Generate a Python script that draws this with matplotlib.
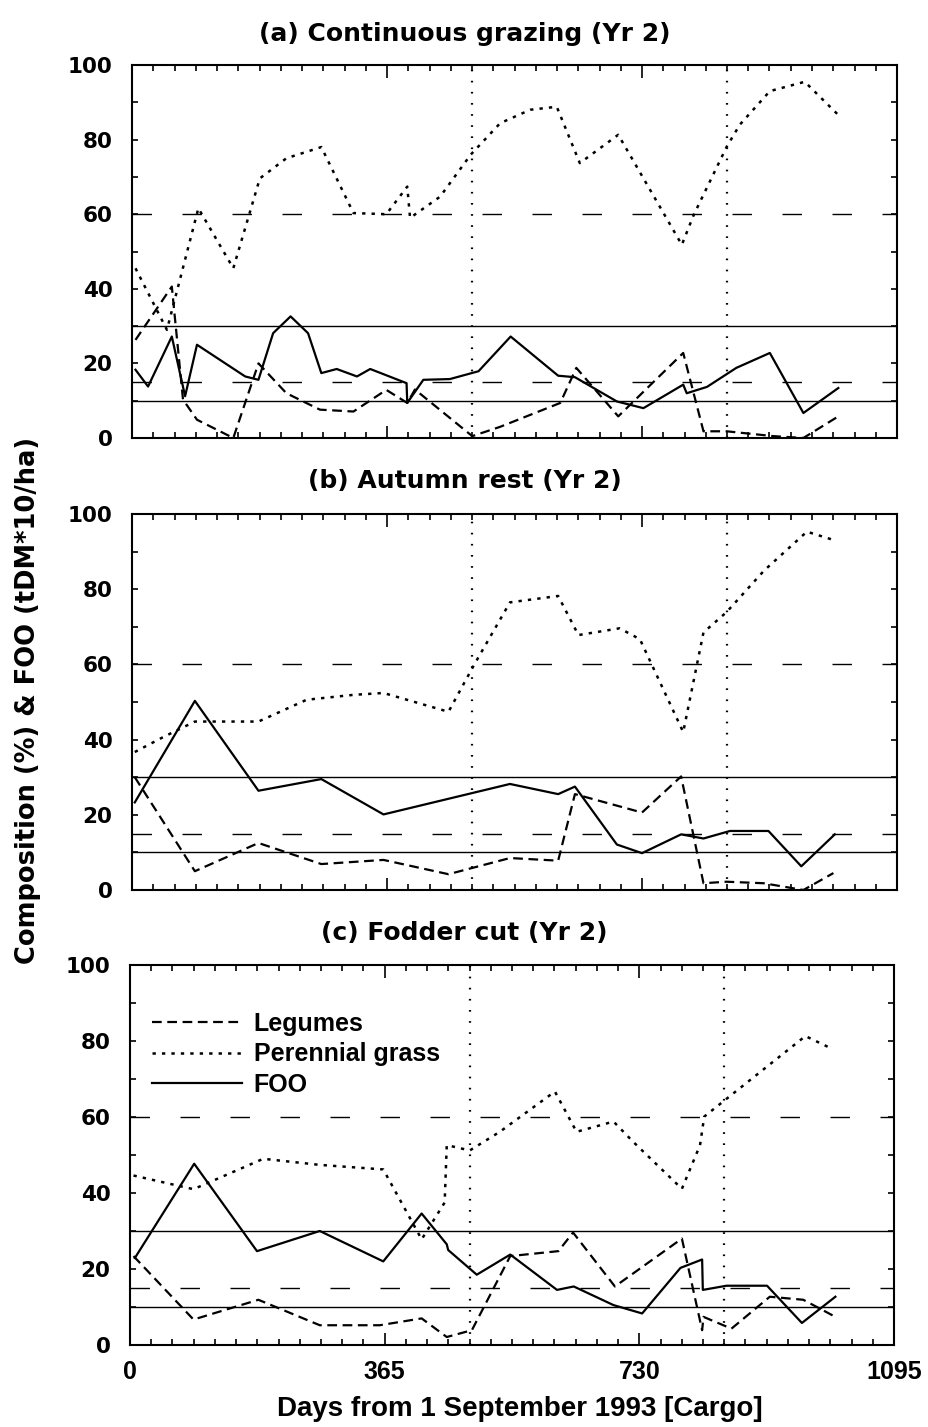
import numpy as np
import matplotlib
matplotlib.use('Agg')
import matplotlib.pyplot as plt
from matplotlib.ticker import MultipleLocator, FixedLocator

plt.rcParams['font.family'] = ['DejaVu Sans']
plt.rcParams['font.weight'] = 'bold'
plt.rcParams['lines.scale_dashes'] = False

# %% data (days from 1 Sept 1993, %)
# (a) continuous grazing
a_grass_x = [5, 50, 95, 145, 183, 221, 271, 317, 364, 394, 398, 441, 485, 527, 570, 608, 641, 696, 787, 804, 851, 870, 913, 963, 1011]
a_grass_y = [45.5, 29, 61.6, 45.5, 69.6, 75, 78, 60.3, 60, 67.4, 59, 64.7, 76, 84.4, 88, 88.8, 73.7, 81.3, 51.8, 59.8, 78, 84, 93, 95.5, 86.6]
a_leg_x = [5, 57, 73, 93, 145, 181, 221, 269, 317, 364, 394, 405, 487, 527, 613, 636, 696, 789, 818, 851, 918, 961, 1011]
a_leg_y = [26.3, 40.6, 10.3, 4.9, 0, 20, 12, 7.6, 7.1, 12.9, 9.4, 13, 0.5, 3, 9.4, 18.8, 5.8, 22.8, 1.8, 1.8, 0.5, 0, 5.8]
a_foo_x = [5, 23, 57, 76, 93, 162, 181, 202, 227, 252, 271, 293, 322, 341, 393, 394, 417, 455, 496, 542, 610, 634, 694, 732, 789, 794, 823, 865, 913, 961, 1011]
a_foo_y = [18.3, 13.8, 27.2, 11.2, 25, 16.5, 15.6, 28.1, 32.6, 28.1, 17.4, 18.5, 16.5, 18.5, 14.7, 9.4, 15.6, 15.8, 17.9, 27.2, 16.7, 16.3, 9.8, 8, 14.3, 12, 13.7, 18.8, 22.8, 6.7, 13.4]

# (b) autumn rest
b_grass_x = [4, 45, 90, 181, 250, 317, 360, 453, 490, 541, 610, 639, 698, 727, 789, 818, 851, 905, 966, 1004]
b_grass_y = [36.7, 40.7, 44.8, 44.8, 50.6, 51.9, 52.4, 47.4, 60, 76.5, 78.2, 67.8, 69.6, 66.7, 42, 68.5, 73.9, 85, 95.3, 93.1]
b_leg_x = [4, 90, 181, 271, 360, 453, 541, 610, 634, 730, 786, 818, 851, 904, 961, 1004]
b_leg_y = [30, 5, 12.5, 6.9, 8, 4.2, 8.5, 7.8, 25.5, 20.6, 30.2, 1.8, 2.2, 1.8, 0, 4.5]
b_foo_x = [4, 90, 181, 271, 360, 541, 610, 634, 694, 730, 786, 818, 856, 911, 958, 1006]
b_foo_y = [23.3, 50.3, 26.4, 29.5, 20.1, 28.2, 25.5, 27.5, 12.1, 9.8, 14.8, 13.7, 15.7, 15.7, 6.3, 14.8]

# (c) fodder cut
c_grass_x = [5, 91, 191, 272, 363, 418, 451, 454, 487, 530, 609, 640, 693, 721, 791, 817, 823, 853, 968, 1001]
c_grass_y = [44.6, 41, 49, 47.4, 46.2, 27.8, 37.5, 52.6, 51.2, 56.1, 66.7, 56.1, 58.8, 53.5, 41.1, 52.6, 60.1, 64.5, 81.3, 78.4]
c_leg_x = [5, 91, 184, 272, 358, 418, 454, 490, 545, 614, 635, 695, 791, 820, 822, 862, 917, 965, 1011]
c_leg_y = [23.4, 6.7, 11.9, 5.2, 5.2, 7, 2.1, 3.9, 23.4, 24.7, 29.6, 15.4, 28, 3.9, 7.4, 4.3, 12.7, 11.9, 7.4]
c_foo_x = [7, 92, 182, 272, 363, 418, 454, 456, 497, 545, 612, 636, 693, 734, 789, 820, 821, 855, 913, 963, 1011]
c_foo_y = [22.9, 47.7, 24.7, 30, 22, 34.6, 26.5, 25, 18.5, 23.8, 14.5, 15.4, 10.5, 8.3, 20.3, 22.5, 14.5, 15.6, 15.6, 5.8, 12.7]

titles = ['(a) Continuous grazing (Yr 2)', '(b) Autumn rest (Yr 2)', '(c) Fodder cut (Yr 2)']
ref_dashed = [60, 15]
ref_solid = [30, 10]
year_marks = [487, 852]
xticks = [0, 365, 730, 1095]

panels = [
    (a_leg_x, a_leg_y, a_grass_x, a_grass_y, a_foo_x, a_foo_y),
    (b_leg_x, b_leg_y, b_grass_x, b_grass_y, b_foo_x, b_foo_y),
    (c_leg_x, c_leg_y, c_grass_x, c_grass_y, c_foo_x, c_foo_y),
]

W, H = 929, 1427
fig = plt.figure(figsize=(W / 100, H / 100), dpi=100)
# axes boxes in pixels: left, top, right, bottom
boxes = [(132, 65, 897, 438), (132, 514, 897, 890), (130, 965, 894, 1345)]
title_y = [34, 481, 933]
lib = ['Liberation Sans', 'DejaVu Sans']

for i, (box, data) in enumerate(zip(boxes, panels)):
    l, t, r, b = box
    ax = fig.add_axes([l / W, 1 - b / H, (r - l) / W, (b - t) / H])
    lx, ly, gx, gy, fx, fy = data
    for v in ref_dashed:
        ax.axhline(v, color='black', lw=1.0, dashes=(14, 22))
    for v in ref_solid:
        ax.axhline(v, color='black', lw=1.0)
    for v in year_marks:
        ax.axvline(v, color='black', lw=1.6, dashes=(1.2, 6.8))
    ax.plot(lx, ly, color='black', lw=1.6, dashes=(7, 4), label='Legumes')
    ax.plot(gx, gy, color='black', lw=1.8, dashes=(2.4, 4.4), label='Perennial grass')
    ax.plot(fx, fy, color='black', lw=1.6, label='FOO')

    ax.set_xlim(0, 1095)
    ax.set_ylim(0, 100)
    ax.xaxis.set_major_locator(FixedLocator(xticks))
    ax.xaxis.set_minor_locator(FixedLocator(np.arange(0, 1095.1, 365 / 12)))
    ax.yaxis.set_major_locator(MultipleLocator(20))
    ax.yaxis.set_minor_locator(MultipleLocator(10))
    ax.tick_params(which='both', direction='in', top=True, right=True, width=1.2)
    ax.tick_params(which='major', axis='x', length=9)
    ax.tick_params(which='major', axis='y', length=4, labelsize=15.5, pad=14)
    ax.tick_params(which='minor', length=4)
    for s in ax.spines.values():
        s.set_linewidth(1.5)
    if i < 2:
        ax.tick_params(axis='x', labelbottom=False)
    else:
        ax.tick_params(axis='x', which='major', pad=11, labelsize=18,
                       labelfontfamily='Liberation Sans')
        ax.legend(loc='upper left', bbox_to_anchor=(0.0, 0.935), frameon=False,
                  handlelength=3.6, handletextpad=0.45, labelspacing=0.25,
                  prop={'size': 18, 'weight': 'bold', 'family': lib})
    fig.text(0.5, 1 - title_y[i] / H, titles[i], ha='center', va='center',
             fontsize=18, fontweight='bold')

fig.text(28 / W, 1 - 700 / H, 'Composition (%) & FOO (tDM*10/ha)', rotation=90,
         ha='center', va='center', fontsize=18.5, fontweight='bold')
fig.text(520 / W, 1 - 1409 / H, 'Days from 1 September 1993 [Cargo]', ha='center',
         va='center', fontsize=20, fontweight='bold', family=lib)

fig.savefig('out.png', dpi=100)
